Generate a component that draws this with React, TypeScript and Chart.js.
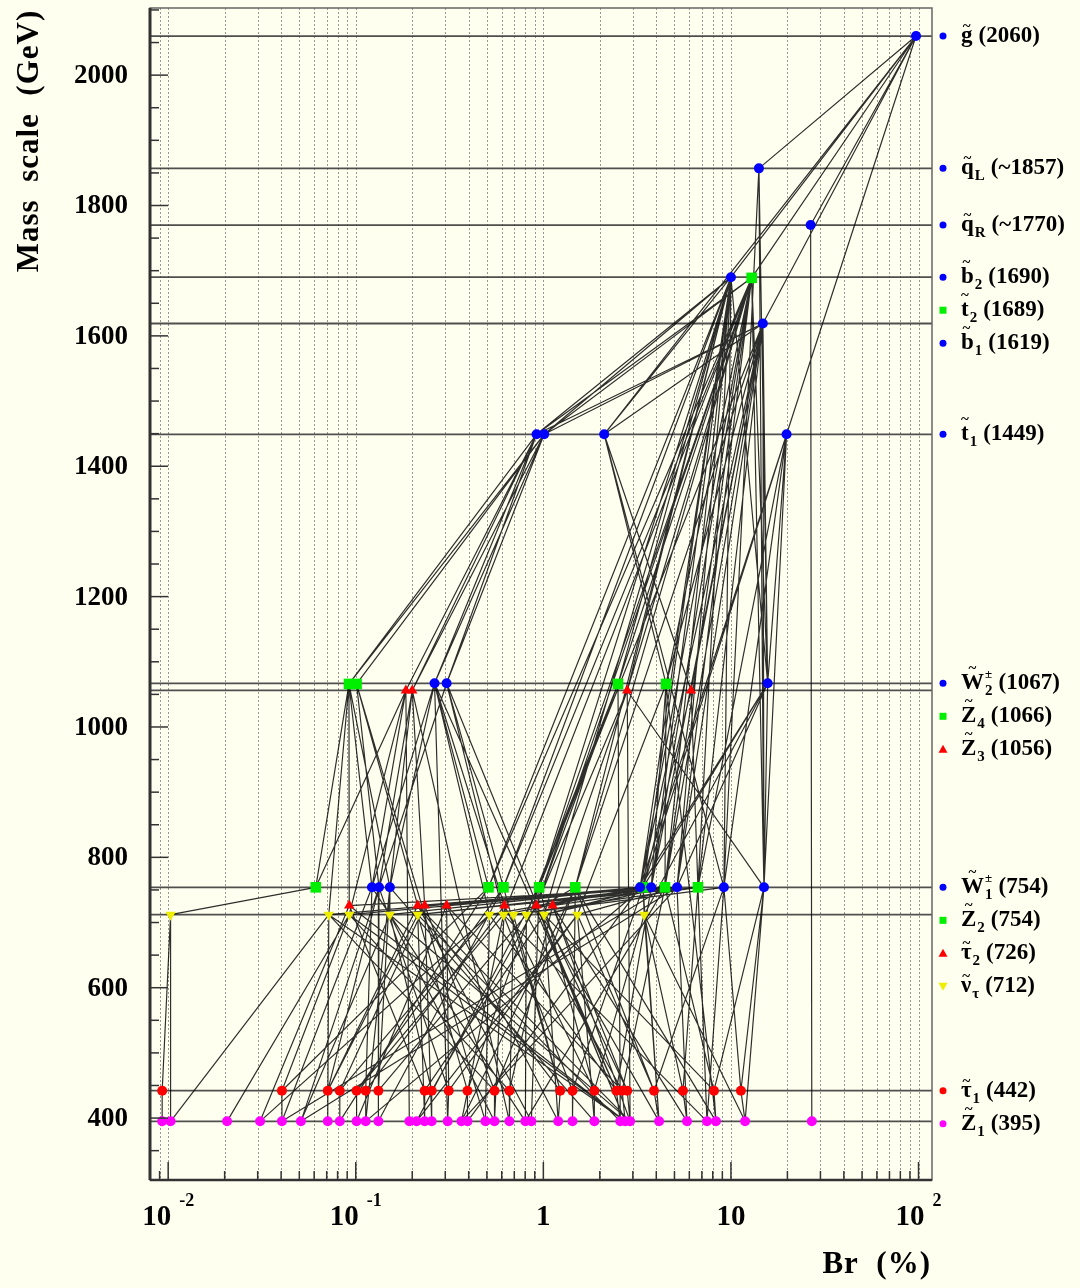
import React, { useEffect, useRef } from "react";
import { Chart, registerables } from "chart.js";

Chart.register(...registerables);

// ---------------- data ----------------
const X_MIN = 0.008;
const X_MAX = 118;
const Y_MIN = 305;
const Y_MAX = 2103;

const particleNames = ["G", "QL", "QR", "B2", "T2", "B1", "T1", "W2", "Z4", "Z3", "W1", "Z2", "TAU2", "NU", "TAU1", "Z1"];
const particleMasses = [2060, 1857, 1770, 1690, 1689, 1619, 1449, 1067, 1066, 1056, 754, 754, 726, 712, 442, 395];

const brG = [97];
const brQL = [14.1];
const brQR = [26.6];
const brB2 = [10.0];
const brT2 = [12.9];
const brB1 = [14.8];
const brT1 = [0.92, 1.01, 2.11, 19.8];
const brW2 = [0.263, 0.305, 15.7];
const brZ4 = [0.092, 0.101, 2.5, 4.51];
const brZ3 = [0.185, 0.2, 2.8, 6.13];
const brW1 = [0.122, 0.133, 0.152, 3.28, 3.76, 5.16, 9.17, 15.0];
const brZ2 = [0.0612, 0.51, 0.613, 0.95, 1.48, 3.4, 4.45, 6.67];
const brTau2 = [0.0923, 0.214, 0.233, 0.305, 0.62, 0.918, 1.12];
const brNu = [0.0103, 0.0718, 0.0923, 0.152, 0.214, 0.516, 0.613, 0.693, 0.812, 1.01, 1.52, 3.45];
const brTau1 = [0.00929, 0.0404, 0.0709, 0.0822, 0.101, 0.113, 0.132, 0.233, 0.254, 0.313, 0.394, 0.549, 0.659, 1.23, 1.43, 1.87, 2.45, 2.63, 2.8, 3.89, 5.55, 8.12, 11.3];
const brZ1 = [0.00929, 0.0103, 0.0206, 0.0309, 0.0404, 0.051, 0.0709, 0.0822, 0.101, 0.113, 0.132, 0.193, 0.211, 0.233, 0.254, 0.309, 0.366, 0.394, 0.491, 0.549, 0.659, 0.802, 0.863, 1.2, 1.43, 1.87, 2.57, 2.73, 2.9, 4.14, 5.83, 7.45, 8.32, 11.9, 27.0];

// decay links: [child, childIndex, parent, parentIndex]
const decayEdges: [string, number, string, number][] = [
  ["QL", 0, "G", 0], ["QR", 0, "G", 0], ["B2", 0, "G", 0], ["T2", 0, "G", 0], ["B1", 0, "G", 0], ["T1", 3, "G", 0], ["T1", 2, "G", 0],
  ["T1", 0, "B2", 0], ["T1", 0, "T2", 0], ["T1", 0, "B1", 0], ["T1", 1, "T2", 0], ["T1", 1, "B1", 0], ["T1", 1, "B2", 0], ["T1", 2, "B2", 0], ["T1", 2, "B1", 0],
  ["W2", 0, "T1", 0], ["W2", 0, "T1", 1], ["W2", 1, "T1", 0], ["W2", 1, "T1", 1], ["W2", 2, "B1", 0], ["W2", 2, "T2", 0], ["W2", 2, "T1", 3], ["W2", 2, "B2", 0], ["W2", 2, "QL", 0],
  ["Z4", 0, "T1", 0], ["Z4", 0, "T1", 1], ["Z4", 1, "T1", 1], ["Z4", 2, "B2", 0], ["Z4", 2, "T2", 0], ["Z4", 3, "T1", 2], ["Z4", 3, "B1", 0], ["Z4", 3, "T2", 0],
  ["Z3", 0, "T1", 0], ["Z3", 1, "T1", 1], ["Z3", 1, "T1", 0], ["Z3", 2, "B2", 0], ["Z3", 2, "T2", 0], ["Z3", 3, "T1", 2], ["Z3", 3, "B1", 0],
  ["W1", 0, "Z4", 0], ["W1", 0, "Z3", 0], ["W1", 0, "W2", 0],
  ["W1", 1, "Z4", 1], ["W1", 1, "Z3", 1], ["W1", 1, "W2", 1],
  ["W1", 2, "Z4", 0], ["W1", 2, "W2", 0], ["W1", 2, "Z3", 1],
  ["W1", 3, "B2", 0], ["W1", 3, "T2", 0], ["W1", 3, "T1", 3], ["W1", 3, "W2", 2], ["W1", 3, "B1", 0],
  ["W1", 4, "B1", 0], ["W1", 4, "T2", 0], ["W1", 4, "Z4", 3], ["W1", 4, "B2", 0],
  ["W1", 5, "B2", 0], ["W1", 5, "B1", 0], ["W1", 5, "W2", 2], ["W1", 5, "T2", 0],
  ["W1", 6, "QL", 0], ["W1", 6, "B2", 0], ["W1", 6, "T1", 2], ["W1", 6, "T1", 3],
  ["W1", 7, "QL", 0], ["W1", 7, "W2", 2], ["W1", 7, "T2", 0], ["W1", 7, "B1", 0], ["W1", 7, "Z3", 2], ["W1", 7, "T1", 3],
  ["Z2", 0, "Z4", 0], ["Z2", 0, "Z3", 0],
  ["Z2", 1, "W2", 0], ["Z2", 1, "B2", 0], ["Z2", 1, "T2", 0],
  ["Z2", 2, "W2", 1], ["Z2", 2, "T2", 0], ["Z2", 2, "B2", 0],
  ["Z2", 3, "B2", 0], ["Z2", 3, "T2", 0], ["Z2", 3, "B1", 0], ["Z2", 3, "Z4", 2],
  ["Z2", 4, "B2", 0], ["Z2", 4, "T2", 0], ["Z2", 4, "B1", 0],
  ["Z2", 5, "W2", 2], ["Z2", 5, "T1", 3], ["Z2", 5, "Z3", 3], ["Z2", 5, "B2", 0],
  ["Z2", 6, "B1", 0], ["Z2", 6, "T2", 0], ["Z2", 6, "Z4", 3], ["Z2", 6, "B2", 0],
  ["Z2", 7, "T1", 3], ["Z2", 7, "B1", 0], ["Z2", 7, "B2", 0], ["Z2", 7, "Z3", 3],
  ["TAU2", 0, "Z4", 0], ["TAU2", 0, "W1", 5], ["TAU2", 1, "Z4", 1], ["TAU2", 1, "Z2", 5],
  ["TAU2", 2, "Z3", 1], ["TAU2", 2, "Z2", 6], ["TAU2", 3, "W1", 3], ["TAU2", 3, "Z2", 5],
  ["TAU2", 4, "W2", 0], ["TAU2", 4, "Z2", 7], ["TAU2", 5, "W1", 4], ["TAU2", 5, "Z4", 2], ["TAU2", 5, "Z3", 2], ["TAU2", 5, "T2", 0],
  ["TAU2", 6, "Z3", 2], ["TAU2", 6, "W1", 5],
  ["NU", 0, "Z2", 0], ["NU", 1, "Z4", 0], ["NU", 1, "W1", 3], ["NU", 2, "W1", 4], ["NU", 2, "Z3", 0],
  ["NU", 3, "W1", 2], ["NU", 3, "Z2", 5], ["NU", 4, "Z2", 6], ["NU", 4, "W1", 5],
  ["NU", 5, "W2", 0], ["NU", 5, "Z2", 5], ["NU", 6, "W2", 1], ["NU", 6, "W1", 3], ["NU", 6, "T2", 0],
  ["NU", 7, "Z2", 7], ["NU", 7, "W1", 6], ["NU", 8, "Z4", 2], ["NU", 8, "Z2", 4],
  ["NU", 9, "W1", 4], ["NU", 9, "Z2", 6], ["NU", 9, "B2", 0], ["NU", 10, "Z4", 3], ["NU", 10, "W1", 5],
  ["NU", 11, "W2", 2], ["NU", 11, "Z2", 5],
  ["TAU1", 0, "NU", 0], ["TAU1", 1, "NU", 2], ["TAU1", 1, "Z2", 1], ["TAU1", 2, "TAU2", 1], ["TAU1", 2, "W1", 1], ["TAU1", 2, "NU", 4],
  ["TAU1", 3, "NU", 5], ["TAU1", 3, "TAU2", 2], ["TAU1", 4, "Z2", 2], ["TAU1", 4, "NU", 6],
  ["TAU1", 5, "TAU2", 4], ["TAU1", 5, "W1", 0], ["TAU1", 6, "W1", 2], ["TAU1", 6, "NU", 8],
  ["TAU1", 7, "TAU2", 0], ["TAU1", 7, "NU", 9], ["TAU1", 8, "TAU2", 5], ["TAU1", 8, "NU", 3],
  ["TAU1", 9, "NU", 10], ["TAU1", 9, "TAU2", 3], ["TAU1", 9, "W1", 1], ["TAU1", 10, "Z2", 3], ["TAU1", 10, "NU", 4],
  ["TAU1", 11, "NU", 1], ["TAU1", 11, "Z2", 4], ["TAU1", 11, "TAU2", 2], ["TAU1", 12, "TAU2", 6], ["TAU1", 12, "NU", 2],
  ["TAU1", 13, "NU", 7], ["TAU1", 13, "TAU2", 1], ["TAU1", 13, "Z2", 2], ["TAU1", 14, "NU", 6], ["TAU1", 14, "Z2", 5],
  ["TAU1", 15, "TAU2", 4], ["TAU1", 15, "NU", 11], ["TAU1", 15, "Z2", 3], ["TAU1", 16, "NU", 5], ["TAU1", 16, "W1", 4], ["TAU1", 16, "TAU2", 5], ["TAU1", 16, "W2", 0],
  ["TAU1", 17, "NU", 8], ["TAU1", 17, "Z2", 6], ["TAU1", 17, "TAU2", 3], ["TAU1", 18, "TAU2", 6], ["TAU1", 18, "NU", 9],
  ["TAU1", 19, "NU", 10], ["TAU1", 19, "W1", 6], ["TAU1", 19, "Z2", 4], ["TAU1", 20, "Z2", 7], ["TAU1", 20, "NU", 11],
  ["TAU1", 21, "W1", 7], ["TAU1", 21, "Z2", 6], ["TAU1", 21, "NU", 9], ["TAU1", 22, "W1", 6], ["TAU1", 22, "W1", 7],
  ["Z1", 0, "TAU1", 0], ["Z1", 1, "NU", 0], ["Z1", 1, "NU", 1], ["Z1", 2, "NU", 2], ["Z1", 3, "TAU2", 0], ["Z1", 3, "NU", 5],
  ["Z1", 4, "TAU1", 1], ["Z1", 4, "W1", 0], ["Z1", 4, "Z2", 6], ["Z1", 5, "W1", 1], ["Z1", 5, "NU", 3], ["Z1", 5, "W1", 5],
  ["Z1", 6, "TAU1", 2], ["Z1", 6, "NU", 1], ["Z1", 7, "TAU1", 3], ["Z1", 7, "Z2", 1],
  ["Z1", 8, "TAU1", 4], ["Z1", 8, "TAU2", 3], ["Z1", 9, "TAU1", 5], ["Z1", 9, "W1", 2], ["Z1", 9, "Z2", 5],
  ["Z1", 10, "TAU1", 6], ["Z1", 10, "W1", 1], ["Z1", 10, "Z2", 2], ["Z1", 11, "Z3", 0], ["Z1", 12, "Z2", 3], ["Z1", 12, "NU", 10],
  ["Z1", 13, "TAU1", 7], ["Z1", 13, "NU", 4], ["Z1", 14, "TAU1", 8], ["Z1", 14, "TAU2", 2],
  ["Z1", 15, "TAU1", 9], ["Z1", 15, "W2", 0], ["Z1", 16, "NU", 6], ["Z1", 16, "Z2", 4], ["Z1", 16, "W1", 5],
  ["Z1", 17, "TAU1", 10], ["Z1", 17, "W1", 3], ["Z1", 18, "NU", 5], ["Z1", 18, "Z4", 1],
  ["Z1", 19, "TAU1", 11], ["Z1", 19, "TAU2", 4], ["Z1", 19, "NU", 3], ["Z1", 20, "TAU1", 12], ["Z1", 20, "NU", 7], ["Z1", 20, "Z3", 1],
  ["Z1", 21, "NU", 8], ["Z1", 21, "W1", 0], ["Z1", 21, "Z2", 6], ["Z1", 22, "Z2", 3], ["Z1", 22, "TAU2", 1],
  ["Z1", 23, "TAU1", 13], ["Z1", 23, "NU", 9], ["Z1", 23, "TAU2", 3], ["Z1", 24, "TAU1", 14], ["Z1", 24, "Z2", 4],
  ["Z1", 25, "TAU1", 15], ["Z1", 25, "NU", 10], ["Z1", 25, "W1", 2], ["Z1", 26, "TAU1", 16], ["Z1", 26, "Z4", 2], ["Z1", 26, "NU", 4],
  ["Z1", 27, "TAU1", 17], ["Z1", 27, "TAU2", 5], ["Z1", 27, "NU", 1], ["Z1", 27, "NU", 2], ["Z1", 27, "TAU2", 0], ["Z1", 27, "W2", 1],
  ["Z1", 28, "TAU1", 18], ["Z1", 28, "Z3", 2], ["Z1", 28, "TAU2", 6], ["Z1", 28, "NU", 3], ["Z1", 28, "TAU2", 1],
  ["Z1", 29, "TAU1", 19], ["Z1", 29, "Z2", 5], ["Z1", 29, "NU", 11], ["Z1", 29, "TAU2", 5], ["Z1", 30, "TAU1", 20], ["Z1", 30, "W1", 5], ["Z1", 30, "TAU2", 6],
  ["Z1", 31, "Z2", 7], ["Z1", 31, "W1", 6], ["Z1", 31, "NU", 6], ["Z1", 32, "TAU1", 21], ["Z1", 32, "Z4", 3], ["Z1", 32, "Z2", 4],
  ["Z1", 33, "TAU1", 22], ["Z1", 33, "W1", 7], ["Z1", 33, "NU", 11], ["Z1", 34, "QR", 0],
];

const levelLineMasses = [2060, 1857, 1770, 1690, 1619, 1449, 1067, 1056, 754, 712, 442, 395];
const yTickValues = [400, 600, 800, 1000, 1200, 1400, 1600, 1800, 2000];
const xDecadeExponents = [-2, -1, 0, 1, 2];

const labelSymbols = ["g", "q", "q", "b", "t", "b", "t", "W", "Z", "Z", "W", "Z", "\u03C4", "\u03BD", "\u03C4", "Z"];
const labelSubs = ["", "L", "R", "2", "2", "1", "1", "2", "4", "3", "1", "2", "2", "\u03C4", "1", "1"];
const labelSups = ["", "", "", "", "", "", "", "\u00B1", "", "", "\u00B1", "", "", "", "", ""];
const labelValues = ["(2060)", "(~1857)", "(~1770)", "(1690)", "(1689)", "(1619)", "(1449)", "(1067)", "(1066)", "(1056)", "(754)", "(754)", "(726)", "(712)", "(442)", "(395)"];

// ---------------- helpers ----------------
const brTable: Record<string, number[]> = {
  G: brG, QL: brQL, QR: brQR, B2: brB2, T2: brT2, B1: brB1, T1: brT1, W2: brW2,
  Z4: brZ4, Z3: brZ3, W1: brW1, Z2: brZ2, TAU2: brTau2, NU: brNu, TAU1: brTau1, Z1: brZ1,
};
const massTable: Record<string, number> = {};
particleNames.forEach((n, i) => (massTable[n] = particleMasses[i]));

type MarkerStyle = { color: string; shape: string; rotation: number; radius: number };
const BLUE: MarkerStyle = { color: "#0000FF", shape: "circle", rotation: 0, radius: 5 };
const GREEN: MarkerStyle = { color: "#00EE00", shape: "rect", rotation: 0, radius: 7.5 };
const REDTRI: MarkerStyle = { color: "#FF0000", shape: "triangle", rotation: 0, radius: 6 };
const YELTRI: MarkerStyle = { color: "#EEEE00", shape: "triangle", rotation: 180, radius: 6 };
const REDDOT: MarkerStyle = { color: "#FF0000", shape: "circle", rotation: 0, radius: 5 };
const MAGDOT: MarkerStyle = { color: "#FF00FF", shape: "circle", rotation: 0, radius: 5 };

const styleOf: Record<string, MarkerStyle> = {
  G: BLUE, QL: BLUE, QR: BLUE, B2: BLUE, B1: BLUE, T1: BLUE, W2: BLUE, W1: BLUE,
  T2: GREEN, Z4: GREEN, Z2: GREEN, Z3: REDTRI, TAU2: REDTRI, NU: YELTRI, TAU1: REDDOT, Z1: MAGDOT,
};

const SERIF = "'Liberation Serif', 'DejaVu Serif', serif";

function drawSmallMarker(ctx: CanvasRenderingContext2D, x: number, y: number, st: MarkerStyle) {
  ctx.fillStyle = st.color;
  ctx.beginPath();
  if (st.shape === "circle") {
    ctx.arc(x, y, 3.5, 0, Math.PI * 2);
  } else if (st.shape === "rect") {
    ctx.rect(x - 3.5, y - 3.5, 7, 7);
  } else if (st.rotation === 0) {
    ctx.moveTo(x, y - 4.5);
    ctx.lineTo(x + 4.5, y + 3.5);
    ctx.lineTo(x - 4.5, y + 3.5);
  } else {
    ctx.moveTo(x, y + 4.5);
    ctx.lineTo(x + 4.5, y - 3.5);
    ctx.lineTo(x - 4.5, y - 3.5);
  }
  ctx.closePath();
  ctx.fill();
}

const overlayPlugin = {
  id: "overlay",
  beforeDatasetsDraw(chart: any) {
    const { ctx, chartArea: a, scales } = chart;
    const xs = scales.x;
    ctx.save();
    ctx.strokeStyle = "rgba(105,105,105,0.7)";
    ctx.lineWidth = 1;
    ctx.setLineDash([2, 2]);
    for (let e = -3; e <= 2; e++) {
      for (let k = 1; k <= 9; k++) {
        const v = k * Math.pow(10, e);
        if (v <= X_MIN || v >= X_MAX) continue;
        const px = Math.round(xs.getPixelForValue(v)) + 0.5;
        ctx.beginPath();
        ctx.moveTo(px, a.top);
        ctx.lineTo(px, a.bottom);
        ctx.stroke();
      }
    }
    ctx.restore();
  },
  afterDraw(chart: any) {
    const { ctx, chartArea: a, scales } = chart;
    const xs = scales.x;
    const ys = scales.y;
    ctx.save();
    ctx.setLineDash([]);

    // frame
    ctx.strokeStyle = "#666";
    ctx.lineWidth = 1.5;
    ctx.strokeRect(a.left, a.top, a.right - a.left, a.bottom - a.top);
    ctx.strokeStyle = "#333";
    ctx.lineWidth = 3;
    ctx.beginPath();
    ctx.moveTo(a.left, a.top);
    ctx.lineTo(a.left, a.bottom);
    ctx.stroke();
    ctx.lineWidth = 2.5;
    ctx.beginPath();
    ctx.moveTo(a.left, a.bottom);
    ctx.lineTo(a.right, a.bottom);
    ctx.stroke();

    // y ticks (inside)
    ctx.lineWidth = 1.5;
    ctx.strokeStyle = "#333";
    for (let v = 350; v <= 2100; v += 50) {
      const py = ys.getPixelForValue(v);
      if (py < a.top || py > a.bottom) continue;
      const major = v % 200 === 0;
      ctx.beginPath();
      ctx.moveTo(a.left, py);
      ctx.lineTo(a.left + (major ? 18 : 9), py);
      ctx.stroke();
    }
    // x ticks (inside)
    for (let e = -3; e <= 2; e++) {
      for (let k = 1; k <= 9; k++) {
        const v = k * Math.pow(10, e);
        if (v <= X_MIN || v >= X_MAX) continue;
        const px = xs.getPixelForValue(v);
        ctx.beginPath();
        ctx.moveTo(px, a.bottom);
        ctx.lineTo(px, a.bottom - (k === 1 ? 18 : 9));
        ctx.stroke();
      }
    }

    // y tick labels
    ctx.fillStyle = "#000";
    ctx.font = `bold 27px ${SERIF}`;
    ctx.textAlign = "right";
    ctx.textBaseline = "middle";
    yTickValues.forEach((v) => {
      ctx.fillText(String(v), 128, ys.getPixelForValue(v) + 1);
    });

    // x tick labels
    ctx.textAlign = "left";
    ctx.textBaseline = "middle";
    const labY = 1218;
    xDecadeExponents.forEach((e) => {
      const px = xs.getPixelForValue(Math.pow(10, e));
      if (e === 0 || e === 1) {
        const t = e === 0 ? "1" : "10";
        ctx.font = `bold 29px ${SERIF}`;
        const w = ctx.measureText(t).width;
        ctx.fillText(t, px - w / 2, labY);
      } else {
        const sup = e < 0 ? "-" + String(-e) : String(e);
        ctx.font = `bold 29px ${SERIF}`;
        const w1 = ctx.measureText("10").width;
        ctx.font = `bold 18px ${SERIF}`;
        const w2 = ctx.measureText(sup).width;
        const x0 = px - (w1 + 8 + w2) / 2;
        ctx.font = `bold 29px ${SERIF}`;
        ctx.fillText("10", x0, labY);
        ctx.font = `bold 18px ${SERIF}`;
        ctx.fillText(sup, x0 + w1 + 8, labY - 17);
      }
    });

    // axis titles
    ctx.font = `bold 31px ${SERIF}`;
    (ctx as any).letterSpacing = "1px";
    ctx.textAlign = "right";
    ctx.fillText("Br  (%)", 931, 1265);
    ctx.save();
    ctx.translate(30, 141);
    ctx.rotate(-Math.PI / 2);
    ctx.textAlign = "center";
    ctx.fillText("Mass  scale  (GeV)", 0, 0);
    ctx.restore();
    (ctx as any).letterSpacing = "0px";

    // right-hand particle labels
    let prevY = -Infinity;
    particleNames.forEach((name, i) => {
      const my = ys.getPixelForValue(particleMasses[i]);
      const y = Math.max(my, prevY + 33);
      prevY = y;
      drawSmallMarker(ctx, 943, y, styleOf[name]);
      ctx.fillStyle = "#000";
      ctx.textAlign = "left";
      ctx.textBaseline = "middle";
      let x = 961;
      ctx.font = `bold 23px ${SERIF}`;
      const sym = labelSymbols[i];
      ctx.fillText(sym, x, y);
      const sw = ctx.measureText(sym).width;
      // tilde above the symbol
      const tall = /[A-Zbt]/.test(sym);
      ctx.font = `bold 15px ${SERIF}`;
      const tw = ctx.measureText("~").width;
      ctx.fillText("~", x + sw / 2 - tw / 2 + (sym === "b" ? -1 : 0), y - (tall ? 14 : 9));
      x += sw;
      let extra = 0;
      if (labelSubs[i]) {
        ctx.font = `bold 15px ${SERIF}`;
        ctx.fillText(labelSubs[i], x + 1, y + 8);
        extra = Math.max(extra, ctx.measureText(labelSubs[i]).width + 1);
      }
      if (labelSups[i]) {
        ctx.font = `bold 13px ${SERIF}`;
        ctx.fillText(labelSups[i], x + 1, y - 9);
        extra = Math.max(extra, ctx.measureText(labelSups[i]).width + 1);
      }
      x += extra + 6;
      ctx.font = `bold 23px ${SERIF}`;
      ctx.fillText(labelValues[i], x, y);
    });

    ctx.restore();
  },
};

export default function App() {
  const canvasRef = useRef<HTMLCanvasElement | null>(null);

  useEffect(() => {
    if (!canvasRef.current) return;

    const edgeData: any[] = [];
    decayEdges.forEach(([c, ci, p, pi]) => {
      edgeData.push({ x: brTable[p][pi], y: massTable[p] });
      edgeData.push({ x: brTable[c][ci], y: massTable[c] });
      edgeData.push({ x: null, y: null });
    });

    const levelData: any[] = [];
    levelLineMasses.forEach((m) => {
      levelData.push({ x: X_MIN, y: m });
      levelData.push({ x: X_MAX, y: m });
      levelData.push({ x: null, y: null });
    });

    const pointSets = particleNames.map((name) => {
      const st = styleOf[name];
      return {
        label: name,
        data: brTable[name].map((b) => ({ x: b, y: massTable[name] })),
        showLine: false,
        pointStyle: st.shape,
        rotation: st.rotation,
        pointRadius: st.radius,
        pointBackgroundColor: st.color,
        pointBorderColor: st.color,
        pointBorderWidth: 0,
        order: 0,
      };
    });

    const chart = new Chart(canvasRef.current, {
      type: "scatter",
      data: {
        datasets: [
          ...pointSets,
          {
            label: "decays",
            data: edgeData,
            showLine: true,
            spanGaps: false,
            borderColor: "rgba(0,0,0,0.82)",
            borderWidth: 1.2,
            pointRadius: 0,
            order: 5,
          },
          {
            label: "levels",
            data: levelData,
            showLine: true,
            spanGaps: false,
            borderColor: "rgba(60,60,60,0.9)",
            borderWidth: 1.8,
            pointRadius: 0,
            order: 10,
          },
        ] as any,
      },
      options: {
        responsive: false,
        maintainAspectRatio: false,
        animation: false,
        events: [],
        layout: { padding: { left: 150, right: 148, top: 8, bottom: 108 } },
        plugins: { legend: { display: false }, tooltip: { enabled: false } },
        scales: {
          x: { type: "logarithmic", min: X_MIN, max: X_MAX, display: false },
          y: { type: "linear", min: Y_MIN, max: Y_MAX, display: false },
        },
      },
      plugins: [overlayPlugin],
    });

    return () => chart.destroy();
  }, []);

  return (
    <div style={{ position: "absolute", left: 0, top: 0, width: 1080, height: 1288, background: "#FFFFF0" }}>
      <canvas ref={canvasRef} width={1080} height={1288} style={{ display: "block", width: 1080, height: 1288 }} />
    </div>
  );
}
